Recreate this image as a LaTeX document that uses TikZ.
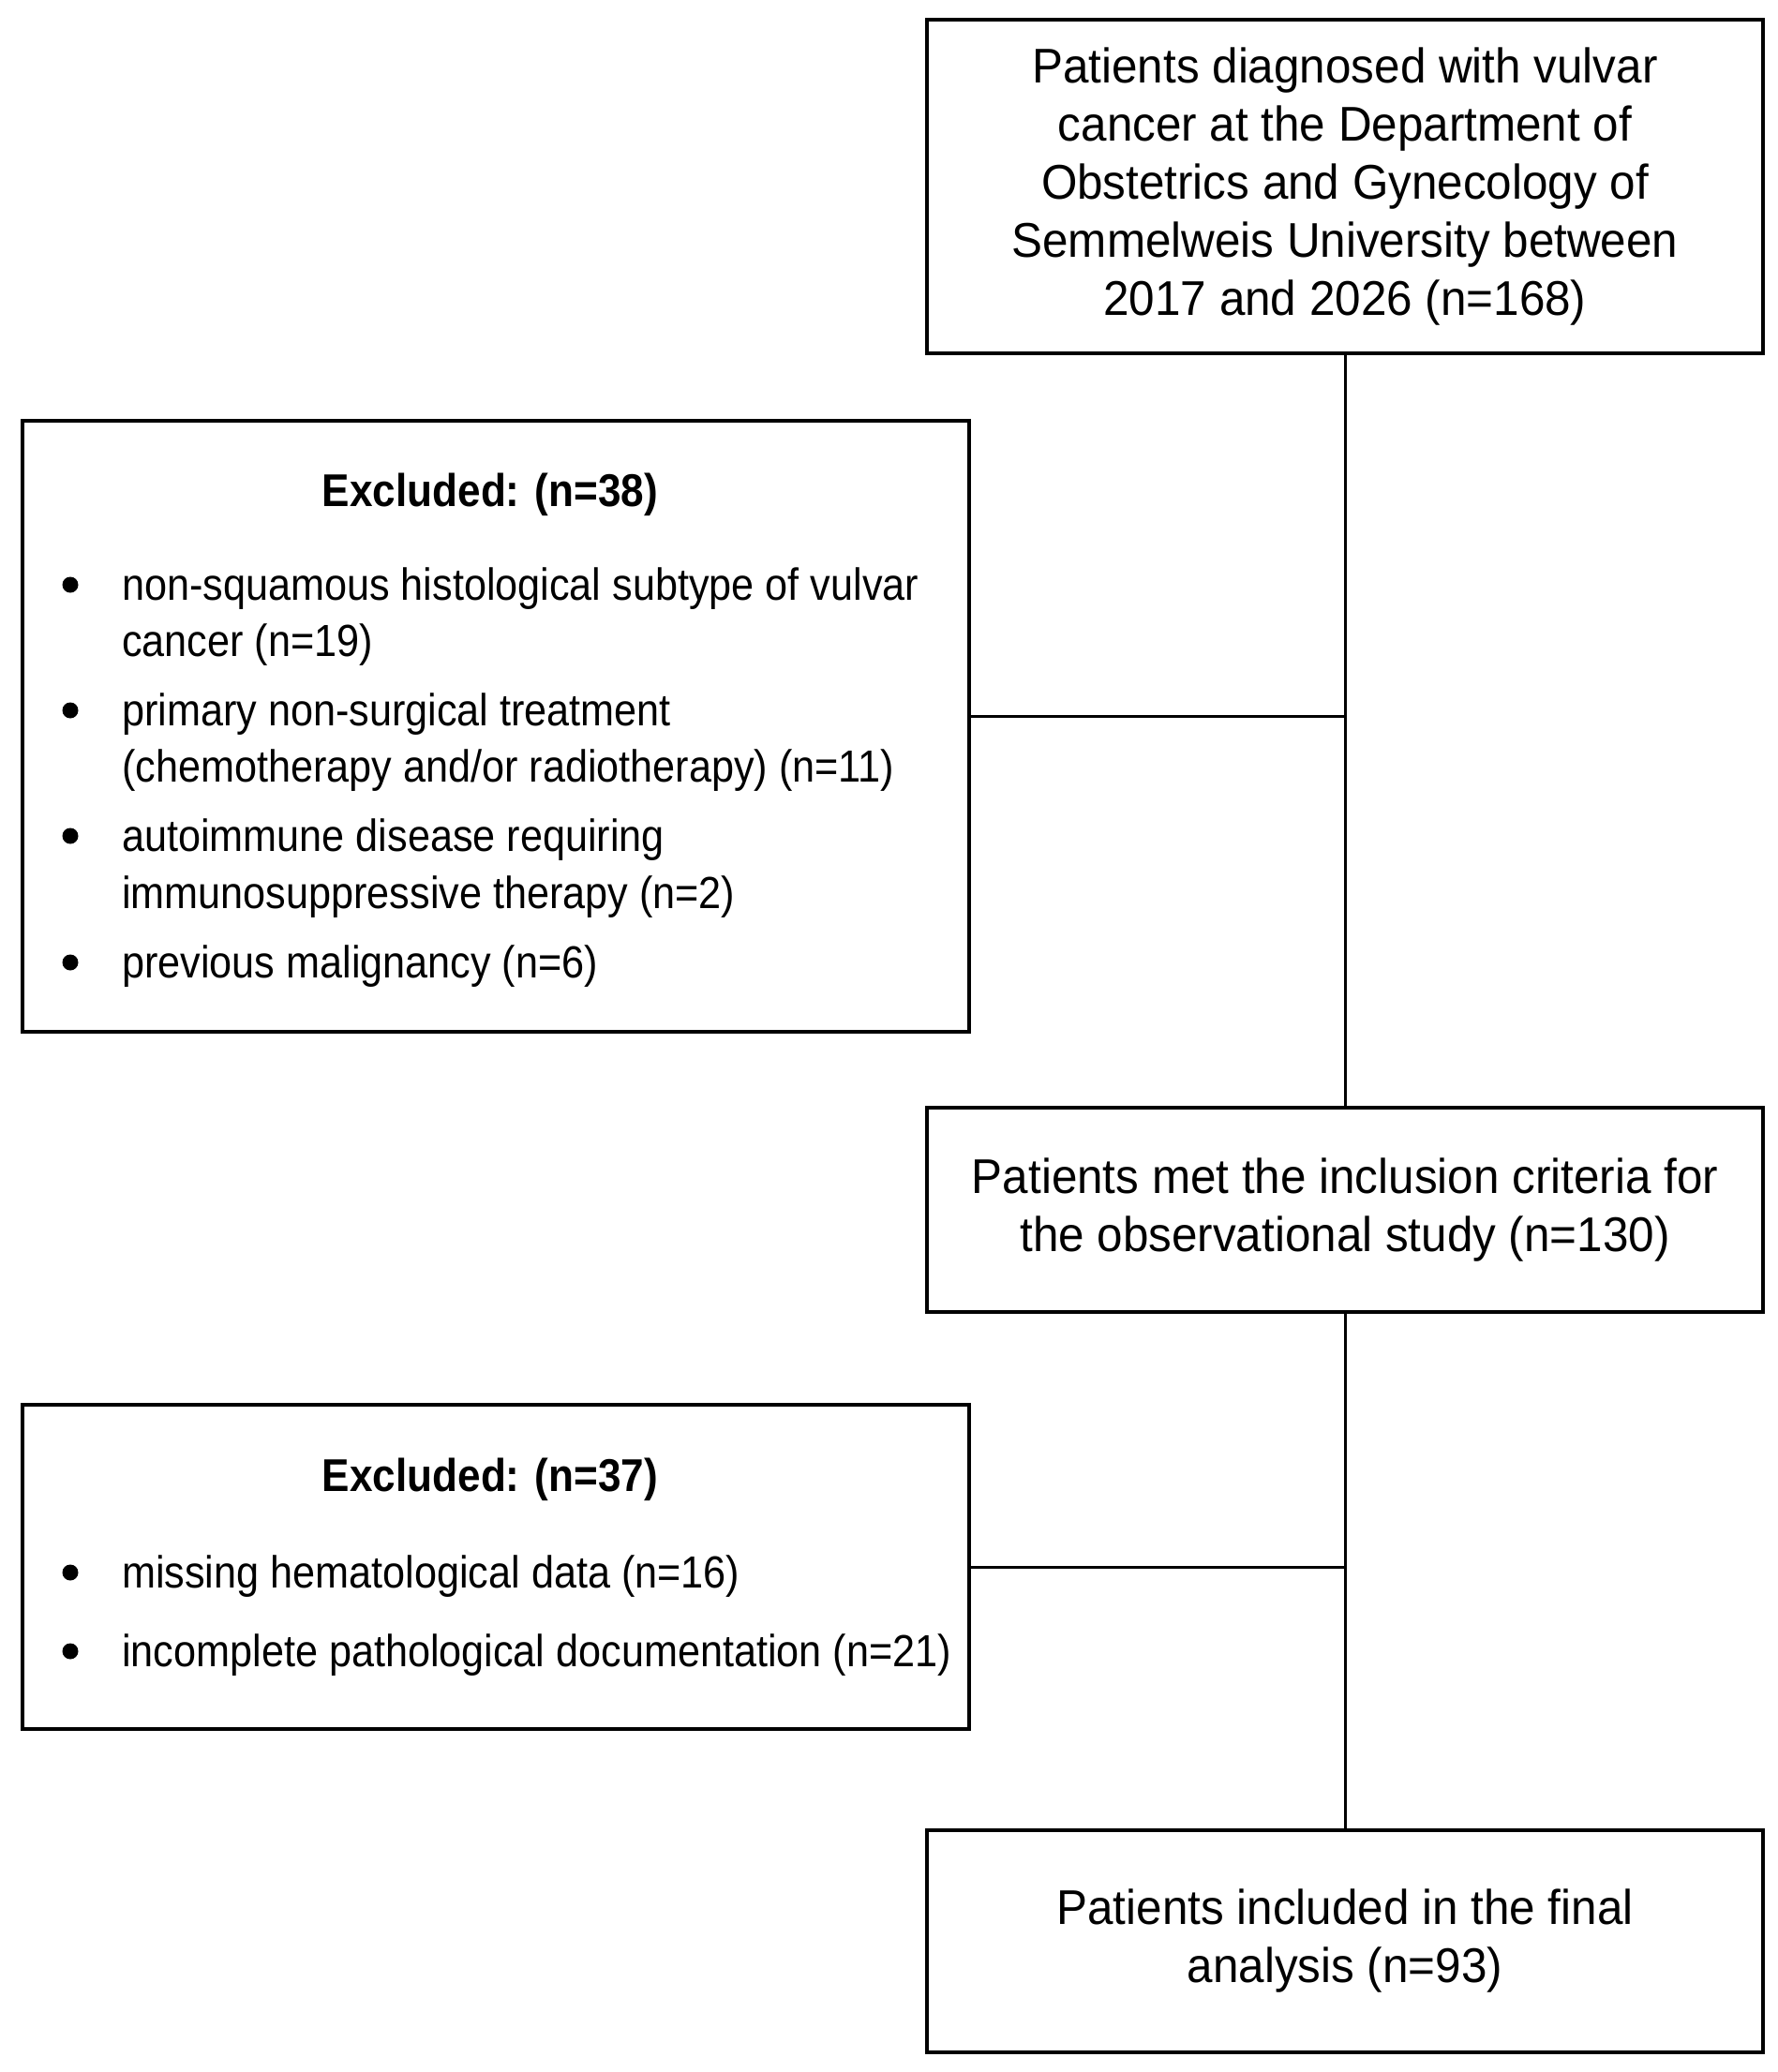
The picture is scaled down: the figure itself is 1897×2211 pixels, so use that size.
\documentclass[tikz,border=0pt]{standalone}
\usepackage{fontspec}
\setmainfont{Liberation Sans}
\newfontfamily\narrowfont[FakeStretch=0.95]{Liberation Sans}
\newfontfamily\narrowerfont[FakeStretch=0.90]{Liberation Sans}
\newcommand{\mainfs}{\narrowfont\fontsize{52}{62}\selectfont}
\newcommand{\bulfs}{\narrowerfont\fontsize{48}{62}\selectfont}
\newcommand{\headfs}{\narrowerfont\fontsize{49}{62}\selectfont\bfseries}
\begin{document}
\begin{tikzpicture}[x=1pt,y=-1pt,
  box/.style={draw=black, line width=4.5pt, inner sep=0pt, fill=white},
  mainbox/.style={box, minimum width=892pt, align=center, font=\mainfs},
  exbox/.style={box, minimum width=1010pt},
  heading/.style={anchor=base, font=\headfs, inner sep=0pt},
  itemline/.style={anchor=base west, font=\bulfs, inner sep=0pt},
  bulletdot/.style={circle, fill=black, minimum size=17pt, inner sep=0pt},
  conn/.style={draw=black, line width=3pt}]
\useasboundingbox (0,0) rectangle (1897,2211);
\fill[white] (0,0) rectangle (1897,2211);

% main boxes
\node[mainbox, minimum height=356pt] (top) at (1435,199) {Patients diagnosed with vulvar\\cancer at the Department of\\Obstetrics and Gynecology of\\Semmelweis University between\\2017 and 2026 (n=168)};
\node[mainbox, minimum height=218pt] (mid) at (1435,1291) {Patients met the inclusion criteria for\\the observational study (n=130)};
\node[mainbox, minimum height=237pt] (bot) at (1435,2071.5) {Patients included in the final\\analysis (n=93)};

% excluded boxes
\node[exbox, minimum height=652pt] (ex1) at (529,775) {};
\node[exbox, minimum height=346pt] (ex2) at (529,1672) {};

% connectors
\draw[conn] (top.south) -- (mid.north);
\draw[conn] (mid.south) -- (bot.north);
\draw[conn] ([yshift=11pt]ex1.east) -- ([yshift=11pt]ex1.east -| top.south);
\draw[conn] (ex2.east) -- (ex2.east -| mid.south);

% excluded 1 text
\node[heading] (h1) at (523,540) {Excluded: (n=38)};
\node[bulletdot] (b1a) at (75,624) {};
\node[itemline] (t1a) at (130,640) {non-squamous histological subtype of vulvar};
\node[itemline] (t1b) at (130,700) {cancer (n=19)};
\node[bulletdot] (b1b) at (75,758) {};
\node[itemline] (t1c) at (130,774) {primary non-surgical treatment};
\node[itemline] (t1d) at (130,834) {(chemotherapy and/or radiotherapy) (n=11)};
\node[bulletdot] (b1c) at (75,892) {};
\node[itemline] (t1e) at (130,908) {autoimmune disease requiring};
\node[itemline] (t1f) at (130,969) {immunosuppressive therapy (n=2)};
\node[bulletdot] (b1d) at (75,1027) {};
\node[itemline] (t1g) at (130,1043) {previous malignancy (n=6)};

% excluded 2 text
\node[heading] (h2) at (523,1591) {Excluded: (n=37)};
\node[bulletdot] (b2a) at (75,1678) {};
\node[itemline] (t2a) at (130,1694) {missing hematological data (n=16)};
\node[bulletdot] (b2b) at (75,1762) {};
\node[itemline] (t2b) at (130,1778) {incomplete pathological documentation (n=21)};
\end{tikzpicture}
\end{document}
